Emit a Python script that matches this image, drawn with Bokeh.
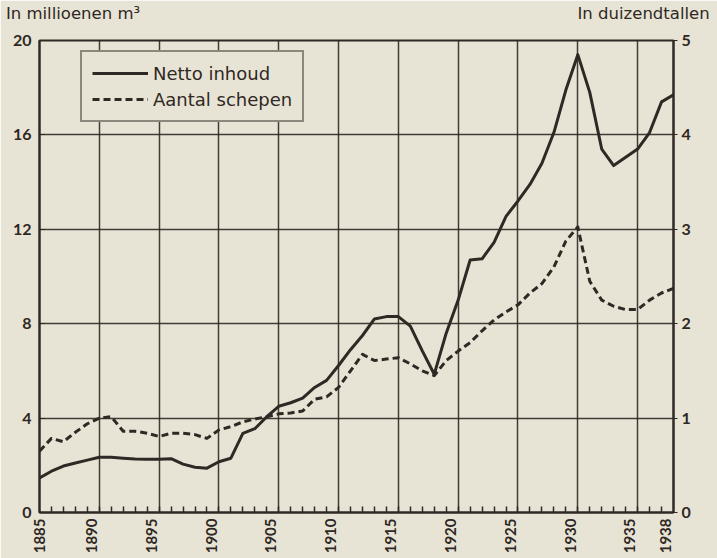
import math
from bokeh.plotting import figure
from bokeh.models import Range1d, LinearAxis, FixedTicker, Legend, LegendItem
from bokeh.embed import file_html
from bokeh.resources import INLINE

# ---- data ----
years = list(range(1885, 1939))
# Netto inhoud, in millioenen m3
netto_inhoud = [1.46, 1.75, 1.97, 2.10, 2.22, 2.34, 2.34, 2.30, 2.27, 2.26,
                2.26, 2.28, 2.05, 1.92, 1.88, 2.15, 2.30, 3.35, 3.55, 4.06,
                4.50, 4.65, 4.85, 5.30, 5.60, 6.23, 6.90, 7.50, 8.20, 8.30,
                8.30, 7.90, 6.85, 5.86, 7.60, 9.00, 10.70, 10.75, 11.45, 12.55,
                13.20, 13.90, 14.80, 16.10, 17.90, 19.40, 17.80, 15.40, 14.70, 15.05,
                15.40, 16.10, 17.40, 17.70]
# Aantal schepen, in duizendtallen
aantal_schepen = [0.65, 0.785, 0.75, 0.85, 0.94, 1.00, 1.015, 0.86, 0.86, 0.84,
                  0.805, 0.84, 0.84, 0.825, 0.785, 0.875, 0.91, 0.96, 0.99, 1.015,
                  1.045, 1.055, 1.075, 1.20, 1.225, 1.325, 1.50, 1.675, 1.61, 1.625,
                  1.64, 1.575, 1.50, 1.45, 1.61, 1.71, 1.80, 1.925, 2.04, 2.125,
                  2.20, 2.325, 2.425, 2.60, 2.875, 3.025, 2.45, 2.25, 2.185, 2.15,
                  2.15, 2.25, 2.325, 2.375]
x_ticks = [1885, 1890, 1895, 1900, 1905, 1910, 1915, 1920, 1925, 1930, 1935, 1938]
minor_years = list(range(1886, 1938))
left_ticks = [0, 4, 8, 12, 16, 20]
right_ticks = [0, 1, 2, 3, 4, 5]
left_title = "In millioenen m³"
right_title = "In duizendtallen"
series_labels = ["Netto inhoud", "Aantal schepen"]
# horizontal anchor (in years) of the two unit captions above the chart
title_positions = [1887.8, 1935.5]
# the printed year labels sit a little left of their grid lines
label_shift = 0.65

PAPER = "#e8e4d5"
INK = "#2f2824"
NUMFONT = "Lato"
TXTFONT = "DejaVu Sans"

p = figure(width=717, height=558, output_backend="svg", toolbar_location=None,
           x_range=Range1d(1885, 1938), y_range=Range1d(0, 20),
           min_border_left=39, min_border_right=44, min_border_top=34, min_border_bottom=46,
           background_fill_color=PAPER, border_fill_color=PAPER,
           outline_line_color=INK, outline_line_width=2)
p.extra_y_ranges = {"ships": Range1d(0, 5)}

# grid
p.xgrid.ticker = FixedTicker(ticks=x_ticks)
p.ygrid.ticker = FixedTicker(ticks=left_ticks)
for g in (p.xgrid, p.ygrid):
    g.grid_line_color = INK
    g.grid_line_width = 1.5
    g.grid_line_alpha = 0.9

# bottom axis (labels placed slightly left of the grid lines, as printed)
label_pos = [t if t == x_ticks[0] else round(t - label_shift, 2) for t in x_ticks]
xa = p.below[0]
xa.ticker = FixedTicker(ticks=label_pos, minor_ticks=minor_years)
xa.major_label_overrides = {pos: str(t) for pos, t in zip(label_pos, x_ticks)}
xa.major_label_orientation = math.pi / 2
xa.major_tick_in = 0
xa.major_tick_out = 0
xa.minor_tick_in = 6
xa.minor_tick_out = 0
xa.minor_tick_line_color = INK
xa.minor_tick_line_width = 1.5
xa.axis_line_color = INK
xa.axis_line_width = 2
xa.major_label_standoff = 6
xa.major_label_text_font = NUMFONT
xa.major_label_text_font_style = "bold"
xa.major_label_text_font_size = "15px"
xa.major_label_text_color = INK

# left axis
ya = p.left[0]
ya.ticker = FixedTicker(ticks=left_ticks)
ya.major_tick_in = 5
ya.major_tick_out = 0
ya.minor_tick_line_color = None
ya.major_tick_line_color = INK
ya.axis_line_color = INK
ya.axis_line_width = 2
ya.major_label_standoff = 8
ya.major_label_text_font = NUMFONT
ya.major_label_text_font_style = "bold"
ya.major_label_text_font_size = "16px"
ya.major_label_text_color = INK

# right axis
ra = LinearAxis(y_range_name="ships", ticker=FixedTicker(ticks=right_ticks))
ra.major_tick_in = 0
ra.major_tick_out = 4
ra.minor_tick_line_color = None
ra.major_tick_line_color = INK
ra.axis_line_color = INK
ra.axis_line_width = 2
ra.major_label_standoff = 4
ra.major_label_text_font = NUMFONT
ra.major_label_text_font_style = "bold"
ra.major_label_text_font_size = "16px"
ra.major_label_text_color = INK
p.add_layout(ra, "right")

# unit captions: an axis above the frame carrying only two text labels
ta = LinearAxis(ticker=FixedTicker(ticks=title_positions),
                major_label_overrides={title_positions[0]: left_title,
                                       title_positions[1]: right_title})
ta.axis_line_color = None
ta.major_tick_line_color = None
ta.minor_tick_line_color = None
ta.major_label_standoff = 12
ta.major_label_text_font = TXTFONT
ta.major_label_text_font_size = "16.5px"
ta.major_label_text_color = INK
p.add_layout(ta, "above")

# lines
r1 = p.line(years, netto_inhoud, line_color=INK, line_width=3, line_join="round")
r2 = p.line(years, aantal_schepen, y_range_name="ships", line_color=INK,
            line_width=3, line_dash="7 4", line_join="round")

legend = Legend(items=[LegendItem(label=series_labels[0], renderers=[r1]),
                       LegendItem(label=series_labels[1], renderers=[r2])],
                location=(41, 390), margin=0, padding=10, spacing=4,
                glyph_width=56, glyph_height=22, label_height=22, label_standoff=5,
                label_text_font=TXTFONT, label_text_font_size="18px", label_text_color=INK,
                background_fill_color=PAPER, background_fill_alpha=1.0,
                border_line_color=INK, border_line_width=2)
p.add_layout(legend)

open("out.html", "w").write(file_html(p, INLINE))
